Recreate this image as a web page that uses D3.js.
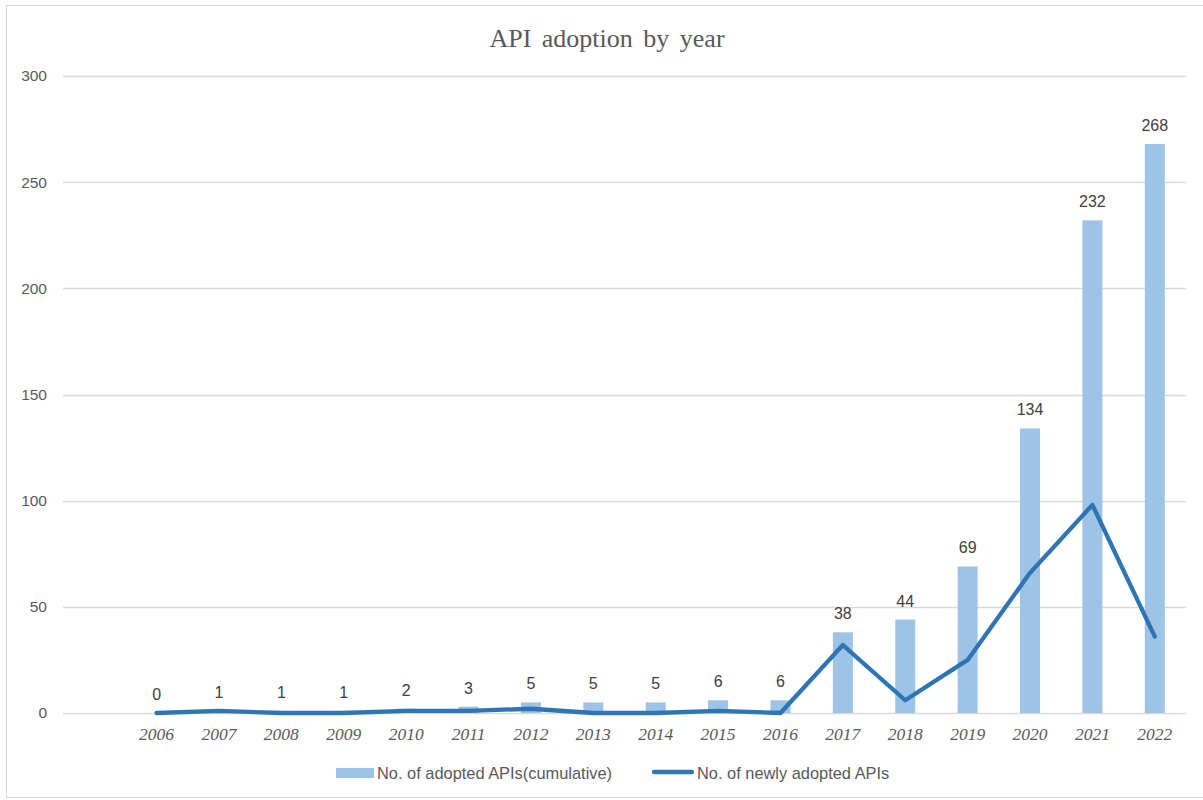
<!DOCTYPE html>
<html>
<head>
<meta charset="utf-8">
<script src="https://cdn.jsdelivr.net/npm/d3@7/dist/d3.min.js"></script>
<style>
  html, body { margin: 0; padding: 0; background: #fff; }
  svg { display: block; }
</style>
</head>
<body>
<svg id="chart" width="1203" height="800"></svg>
<script>
// Years on the category axis (a leading empty slot keeps the gap before 2006)
const years = ["2006","2007","2008","2009","2010","2011","2012","2013","2014","2015","2016","2017","2018","2019","2020","2021","2022"];
// Cumulative number of adopted APIs (bars)
const cumulative = [0, 1, 1, 1, 2, 3, 5, 5, 5, 6, 6, 38, 44, 69, 134, 232, 268];
// Newly adopted APIs per year (line)
const newlyAdopted = [0, 1, 0, 0, 1, 1, 2, 0, 0, 1, 0, 32, 6, 25, 66, 98, 36];
// Value axis ticks
const yTicks = [0, 50, 100, 150, 200, 250, 300];

const svg = d3.select("#chart");
const W = 1203, H = 800;
const margin = { left: 63, right: 17, top: 76, bottom: 87 };

// chart frame
svg.append("rect")
  .attr("x", 6.5).attr("y", 5.5)
  .attr("width", W + 10).attr("height", H - 8)
  .attr("fill", "#fff").attr("stroke", "#d9d9d9").attr("stroke-width", 1);

const x = d3.scaleBand()
  .domain([""].concat(years))
  .range([margin.left, W - margin.right])
  .paddingInner(0).paddingOuter(0);

const y = d3.scaleLinear()
  .domain([0, 300])
  .range([H - margin.bottom, margin.top]);

const textColor = "#595959";
const sansFont = "'Liberation Sans', Arial, sans-serif";

// gridlines
svg.append("g")
  .selectAll("line")
  .data(yTicks)
  .join("line")
  .attr("x1", margin.left).attr("x2", W - margin.right)
  .attr("y1", d => Math.round(y(d)) + 0.5).attr("y2", d => Math.round(y(d)) + 0.5)
  .attr("stroke", "#d9d9d9").attr("stroke-width", 1.3);

// value axis labels
const yAxis = d3.axisLeft(y).tickValues(yTicks).tickSize(0).tickPadding(16);
const yG = svg.append("g")
  .attr("transform", `translate(${margin.left},0)`)
  .call(yAxis);
yG.select(".domain").remove();
yG.selectAll("text")
  .attr("fill", textColor)
  .style("font-family", sansFont)
  .style("font-size", "15.5px");

// category axis labels
const xAxis = d3.axisBottom(x).tickValues(years).tickSize(0).tickPadding(15);
const xG = svg.append("g")
  .attr("transform", `translate(0,${H - margin.bottom})`)
  .call(xAxis);
xG.select(".domain").remove();
xG.selectAll("text")
  .attr("fill", textColor)
  .style("font-family", "'Liberation Serif', 'Times New Roman', serif")
  .style("font-style", "italic")
  .style("font-size", "17.5px");

// bars
const barW = 20;
const barColor = "#9dc3e6";
svg.append("g")
  .selectAll("rect")
  .data(years)
  .join("rect")
  .attr("x", (d) => x(d) + x.bandwidth() / 2 - barW / 2)
  .attr("width", barW)
  .attr("y", (d, i) => y(cumulative[i]))
  .attr("height", (d, i) => y(0) - y(cumulative[i]))
  .attr("fill", barColor);

// bar value labels
svg.append("g")
  .selectAll("text")
  .data(years)
  .join("text")
  .attr("x", d => x(d) + x.bandwidth() / 2)
  .attr("y", (d, i) => y(cumulative[i]) - 13)
  .attr("text-anchor", "middle")
  .attr("fill", "#404040")
  .style("font-family", sansFont)
  .style("font-size", "16px")
  .text((d, i) => cumulative[i]);

// line of newly adopted APIs
const lineColor = "#2e75b6";
const line = d3.line()
  .x((d, i) => x(years[i]) + x.bandwidth() / 2)
  .y(d => y(d));
svg.append("path")
  .datum(newlyAdopted)
  .attr("d", line)
  .attr("fill", "none")
  .attr("stroke", lineColor)
  .attr("stroke-width", 4.3)
  .attr("stroke-linejoin", "round")
  .attr("stroke-linecap", "round");

// title
svg.append("text")
  .attr("x", 607).attr("y", 47)
  .attr("text-anchor", "middle")
  .attr("fill", textColor)
  .style("font-family", "'Liberation Serif', 'Times New Roman', serif")
  .style("font-size", "26px")
  .style("word-spacing", "4px")
  .text("API adoption by year");

// legend
const legend = svg.append("g").style("font-family", sansFont).style("font-size", "16.4px");
legend.append("rect")
  .attr("x", 336).attr("y", 768).attr("width", 38).attr("height", 10)
  .attr("fill", barColor);
legend.append("text")
  .attr("x", 377).attr("y", 779)
  .attr("fill", textColor)
  .text("No. of adopted APIs(cumulative)");
legend.append("line")
  .attr("x1", 654).attr("x2", 692).attr("y1", 772).attr("y2", 772)
  .attr("stroke", lineColor).attr("stroke-width", 4.3)
  .attr("stroke-linecap", "round");
legend.append("text")
  .attr("x", 697).attr("y", 779)
  .attr("fill", textColor)
  .text("No. of newly adopted APIs");
</script>
</body>
</html>
